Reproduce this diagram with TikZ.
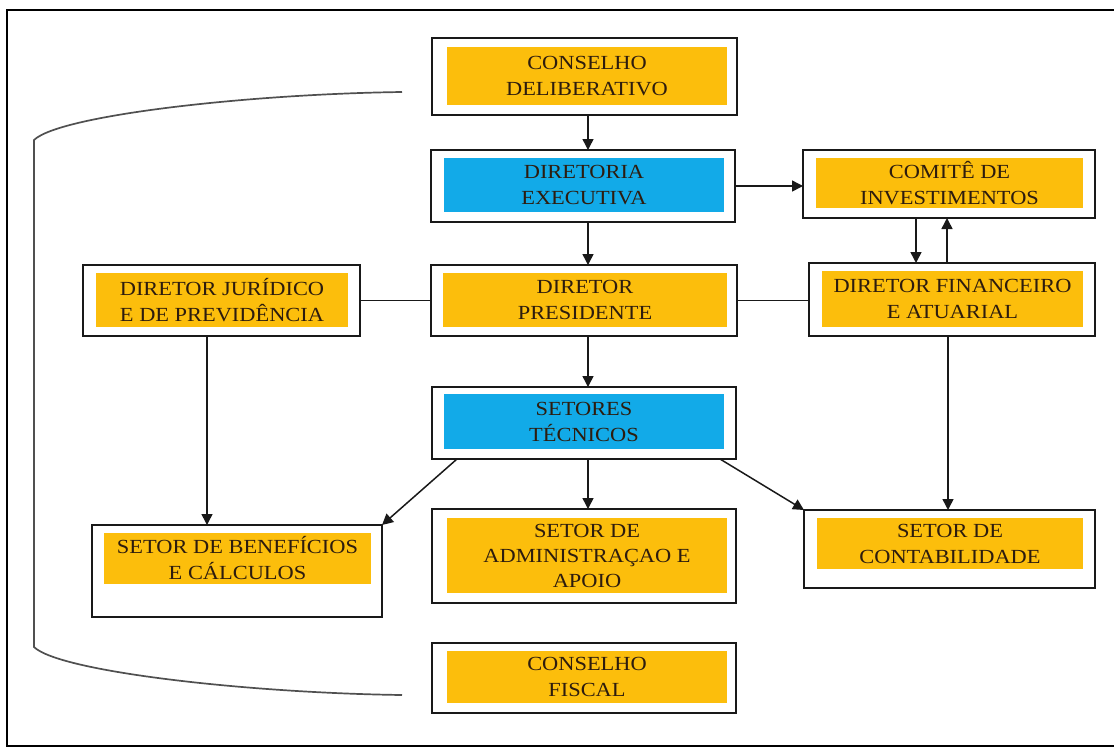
\documentclass[tikz,border=0pt]{standalone}
\usepackage{fontspec}
\setmainfont[FakeStretch=1.12]{Liberation Serif}
\usetikzlibrary{arrows.meta,calc}
\definecolor{boxorange}{RGB}{252,190,12}
\definecolor{boxblue}{RGB}{18,170,232}
\definecolor{txt}{RGB}{45,28,14}
\definecolor{bracketgray}{RGB}{80,80,80}
\begin{document}
\begin{tikzpicture}[x=1pt,y=-1pt,
  outerbox/.style={draw=black!90,line width=1.6pt,fill=white,inner sep=0pt,outer sep=0pt},
  innerbox/.style={fill=#1,inner sep=0pt,text=txt,font=\fontsize{20}{26}\selectfont,align=center},
  conn/.style={line width=1.5pt,draw=black!90},
  arr/.style={conn,-{Triangle[length=11pt,width=11pt]}},
  bracketline/.style={line width=1.7pt,draw=bracketgray}]
\useasboundingbox (0,0) rectangle (1114,748);
% outer frame
\draw[line width=1.4pt] (1114,10) -- (7,10) -- (7,746) -- (1114,746);

% boxes
\node[outerbox,minimum width=305pt,minimum height=77pt] (CD) at (584.5,76.5) {};
\node[innerbox=boxorange,minimum width=280pt,minimum height=58pt] (CDt) at (587,76) {CONSELHO\\DELIBERATIVO};

\node[outerbox,minimum width=304pt,minimum height=72pt] (DE) at (583,186) {};
\node[innerbox=boxblue,minimum width=280pt,minimum height=54pt] (DEt) at (584,185) {DIRETORIA\\EXECUTIVA};

\node[outerbox,minimum width=292pt,minimum height=68pt] (CI) at (949,184) {};
\node[innerbox=boxorange,minimum width=267pt,minimum height=50pt] (CIt) at (949.5,183) {COMITÊ DE\\INVESTIMENTOS};

\node[outerbox,minimum width=286pt,minimum height=73pt] (DF) at (952,299.5) {};
\node[innerbox=boxorange,minimum width=261pt,minimum height=56pt] (DFt) at (952.5,299) {DIRETOR FINANCEIRO\\E ATUARIAL};

\node[outerbox,minimum width=306pt,minimum height=71pt] (DP) at (584,300.5) {};
\node[innerbox=boxorange,minimum width=284pt,minimum height=54pt] (DPt) at (585,300) {DIRETOR\\PRESIDENTE};

\node[outerbox,minimum width=277pt,minimum height=71pt] (DJ) at (221.5,300.5) {};
\node[innerbox=boxorange,minimum width=252pt,minimum height=54pt] (DJt) at (222,300) {DIRETOR JURÍDICO\\E DE PREVIDÊNCIA};

\node[outerbox,minimum width=304pt,minimum height=72pt] (ST) at (584,423) {};
\node[innerbox=boxblue,minimum width=280pt,minimum height=55pt] (STt) at (584,421.5) {SETORES\\TÉCNICOS};

\node[outerbox,minimum width=290pt,minimum height=92pt] (SB) at (237,571) {};
\node[innerbox=boxorange,minimum width=267pt,minimum height=51pt] (SBt) at (237.5,558.5) {SETOR DE BENEFÍCIOS\\E CÁLCULOS};

\node[outerbox,minimum width=304pt,minimum height=94pt] (SA) at (584,556) {};
\node[innerbox=boxorange,minimum width=280pt,minimum height=75pt,font=\fontsize{20}{25}\selectfont] (SAt) at (587,555.5) {SETOR DE\\ADMINISTRAÇAO E\\APOIO};

\node[outerbox,minimum width=291pt,minimum height=78pt] (SC) at (949.5,549) {};
\node[innerbox=boxorange,minimum width=266pt,minimum height=51pt] (SCt) at (950,543.5) {SETOR DE\\CONTABILIDADE};

\node[outerbox,minimum width=304pt,minimum height=70pt] (CF) at (584,678) {};
\node[innerbox=boxorange,minimum width=280pt,minimum height=52pt] (CFt) at (587,677) {CONSELHO\\FISCAL};

% helper x positions
\coordinate (x588) at (588,0);
\coordinate (x916) at (916,0);
\coordinate (x947) at (947,0);
\coordinate (x948) at (948,0);
\coordinate (x207) at (207,0);

% connectors
\draw[arr] (CD.south -| x588) -- (DE.north -| x588);
\draw[arr] (DE.east) -- (DE.east -| CI.west);
\draw[arr] (DE.south -| x588) -- (DP.north -| x588);
\draw[arr] (CI.south -| x916) -- (DF.north -| x916);
\draw[arr] (DF.north -| x947) -- (CI.south -| x947);
\draw[conn] (DJ.east) -- (DP.west);
\draw[conn] (DP.east) -- (DP.east -| DF.west);
\draw[arr] (DP.south -| x588) -- (ST.north -| x588);
\draw[arr] (DJ.south -| x207) -- (SB.north -| x207);
\draw[arr] ([xshift=25pt]ST.south west) -- (SB.north east);
\draw[arr] (ST.south -| x588) -- (SA.north -| x588);
\draw[arr] ([xshift=-16pt]ST.south east) -- (SC.north west);
\draw[arr] (DF.south -| x948) -- (SC.north -| x948);

% bracket linking the councils
\coordinate (b1) at (402,92);
\coordinate (b2) at (34,140);
\coordinate (b3) at (34,647);
\coordinate (b4) at (402,695);
\draw[bracketline] (b1) .. controls (250,94) and (60,115) .. (b2)
  -- (b3) .. controls (60,672) and (250,693) .. (b4);
\end{tikzpicture}
\end{document}
